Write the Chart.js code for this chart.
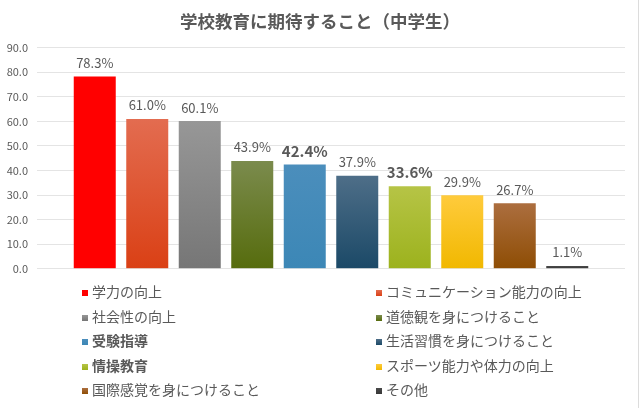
<!DOCTYPE html>
<html lang="ja">
<head>
<meta charset="utf-8">
<script src="https://cdn.jsdelivr.net/npm/chart.js@4/dist/chart.umd.min.js"></script>
<style>
  body { margin: 0; background: #fff; }
  #wrap { position: relative; width: 640px; height: 408px; }
  #edge { position: absolute; left: 638px; top: 0; width: 1px; height: 408px; background: #dcdcdc; }
  #title { position: absolute; left: 0; top: 9px; width: 640px; text-align: center;
           font-family: 'Noto Sans CJK JP', sans-serif; font-size: 17.5px; font-weight: bold;
           line-height: 24px; color: #595959; }
  #legend { position: absolute; left: 0; top: 0; width: 640px; height: 408px; pointer-events: none;
            font-family: 'Noto Sans CJK JP', sans-serif; font-size: 14px; color: #595959; }
  .item { position: absolute; height: 20px; line-height: 20px; white-space: nowrap; }
  .item i { display: inline-block; width: 6px; height: 6px; margin-right: 4px; vertical-align: 1px; }
  .item.b { font-weight: bold; }
</style>
</head>
<body>
<div id="wrap">
  <canvas id="chart" width="640" height="408"></canvas>
  <div id="title"></div>
  <div id="legend"></div>
  <div id="edge"></div>
</div>
<script>
// データ
const chartTitle = '学校教育に期待すること（中学生）';
const categories = ['学力の向上', 'コミュニケーション能力の向上', '社会性の向上', '道徳観を身につけること',
                    '受験指導', '生活習慣を身につけること', '情操教育', 'スポーツ能力や体力の向上',
                    '国際感覚を身につけること', 'その他'];
const values = [78.3, 61.0, 60.1, 43.9, 42.4, 37.9, 33.6, 29.9, 26.7, 1.1];
const boldItems = ['受験指導', '情操教育'];
const yTicks = [0, 10, 20, 30, 40, 50, 60, 70, 80, 90];

// 色 (上 → 下のグラデーション)
const barTop    = ['#FF0000', '#E36C50', '#979797', '#7B8B4D', '#4B8EBC', '#4E6E88', '#B6C446', '#FFCB3C', '#AC6E3F', '#4A4A4A'];
const barBottom = ['#FF0000', '#DA4015', '#767676', '#566C0D', '#3C87B6', '#1B4967', '#9CB21D', '#F1B800', '#8E4D04', '#383838'];

const textColor = '#595959';
Chart.defaults.font.family = "'Noto Sans CJK JP', 'Open Sans', sans-serif";
Chart.defaults.color = textColor;

document.getElementById('title').textContent = chartTitle;

// 棒の上に値ラベル
const valueLabels = {
  id: 'valueLabels',
  afterDatasetsDraw(chart) {
    const c = chart.ctx;
    const meta = chart.getDatasetMeta(0);
    c.save();
    c.textAlign = 'center';
    c.textBaseline = 'middle';
    c.fillStyle = textColor;
    meta.data.forEach((bar, i) => {
      const bold = boldItems.includes(categories[i]);
      c.font = (bold ? 'bold 15px ' : '13px ') + Chart.defaults.font.family;
      c.fillText(values[i].toFixed(1) + '%', bar.x, bar.y - 13.5);
    });
    c.restore();
  }
};

const ctx = document.getElementById('chart').getContext('2d');
const myChart = new Chart(ctx, {
  type: 'bar',
  data: {
    labels: categories,
    datasets: [{
      label: chartTitle,
      data: values.map((v, i) => ({ x: i, y: v })),
      backgroundColor: (context) => {
        const i = context.dataIndex;
        const chart = context.chart;
        if (!chart.chartArea || i === undefined) return barBottom[i] || '#999';
        const y = chart.scales.y;
        const top = y.getPixelForValue(values[i]);
        const bottom = y.getPixelForValue(0);
        const g = chart.ctx.createLinearGradient(0, top, 0, bottom);
        g.addColorStop(0, barTop[i]);
        g.addColorStop(1, barBottom[i]);
        return g;
      },
      barPercentage: 1.0,
      categoryPercentage: 0.8
    }]
  },
  options: {
    responsive: false,
    animation: false,
    layout: { padding: { left: 0, right: 15, top: 47.7, bottom: 139.3 } },
    plugins: {
      legend: { display: false },
      tooltip: { enabled: false },
      title: { display: false }
    },
    scales: {
      x: {
        type: 'linear',
        min: -1.1,
        max: 10.1,
        offset: false,
        grid: { offset: false },
        display: false
      },
      y: {
        min: yTicks[0],
        max: yTicks[yTicks.length - 1],
        afterFit(scale) { scale.width = 37; },
        afterBuildTicks(scale) { scale.ticks = yTicks.map(v => ({ value: v })); },
        ticks: {
          padding: 9,
          color: textColor,
          font: { size: 11 },
          callback: (v) => Number(v).toFixed(1)
        },
        grid: { color: '#E4E4E4', drawTicks: false },
        border: { display: false }
      }
    }
  },
  plugins: [valueLabels]
});

// 凡例 (2列)
const legend = document.getElementById('legend');
categories.forEach((name, i) => {
  const row = Math.floor(i / 2);
  const col = i % 2;
  const el = document.createElement('div');
  el.className = 'item' + (boldItems.includes(name) ? ' b' : '');
  el.style.left = (col === 0 ? 82 : 376) + 'px';
  el.style.top = (281 + row * 24.5) + 'px';
  el.innerHTML = `<i style="background: linear-gradient(${barTop[i]}, ${barBottom[i]})"></i>${name}`;
  legend.appendChild(el);
});
</script>
</body>
</html>
